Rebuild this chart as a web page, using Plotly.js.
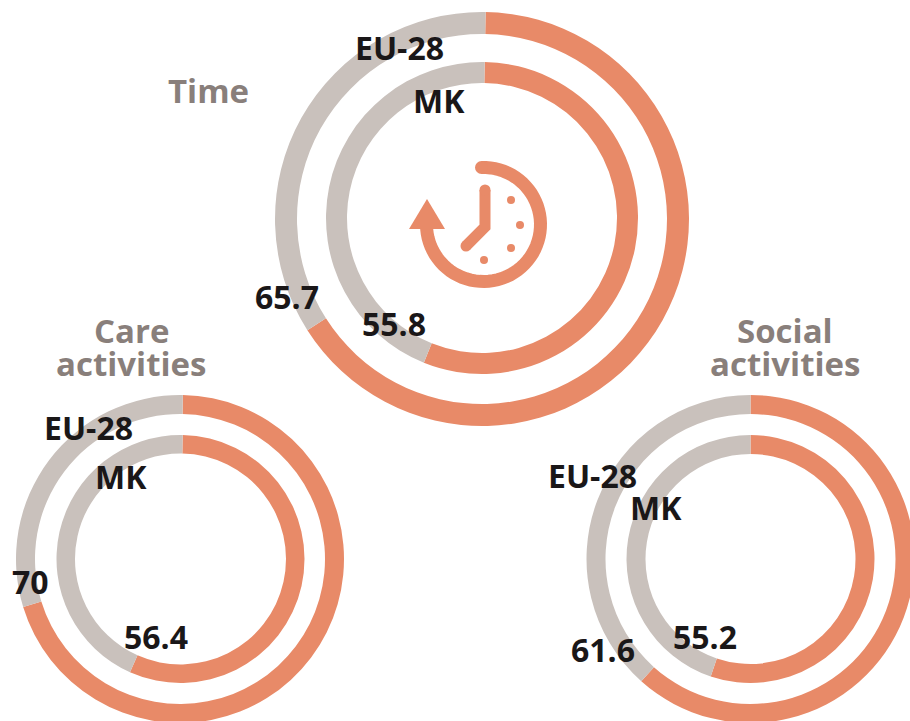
<!DOCTYPE html>
<html>
<head>
<meta charset="utf-8">
<script src="https://cdn.plot.ly/plotly-3.0.1.min.js"></script>
<style>html,body{margin:0;padding:0;background:#fff;overflow:hidden;width:910px;height:721px}#c{width:920px;height:730px}</style>
</head>
<body>
<div id="c"></div>
<script>
var W = 920, H = 730;
var panels = ["Time", "Care activities", "Social activities"];
var eu28Values = [65.7, 70, 61.6];
var mkValues = [55.8, 56.4, 55.2];
var ORANGE = "#E88A68", GREY = "#C9C1BC", TITLE = "#897F7B", INK = "#1A1718";
var FONT = "Open Sans";

function px(x){return x/W;}
function py(y){return 1-y/H;}

function ring(value, cx, cy, r, thick, rot){
  return {
    type: "pie", values: [value, 100-value], sort: false, direction: "clockwise", rotation: rot,
    hole: (r-thick)/r, textinfo: "none", hoverinfo: "skip", showlegend: false,
    marker: {colors: [ORANGE, GREY], line: {width: 0}},
    domain: {x: [px(cx-r), px(cx+r)], y: [py(cy+r), py(cy-r)]}
  };
}

var data = [
  ring(eu28Values[0], 482, 219, 207, 22, 1),
  ring(mkValues[0], 482, 218, 156, 21, 1),
  ring(eu28Values[1], 180, 559, 164, 19, 1),
  ring(mkValues[1], 180.5, 559, 124, 18.5, 1),
  ring(eu28Values[2], 750.5, 559, 164, 19, 0),
  ring(mkValues[2], 750.5, 559, 124, 19, 0)
];

function label(t, x, y, size, color){
  return {text: t, x: px(x), y: py(y), xref: "paper", yref: "paper", xanchor: "center", yanchor: "middle",
    showarrow: false, font: {family: FONT, size: size, color: color, weight: 700}};
}

var annotations = [
  label("EU-28", 399.5, 47, 32, INK),
  label("MK", 438.5, 101, 32, INK),
  label(String(eu28Values[0]), 287, 296, 32, INK),
  label(String(mkValues[0]), 394, 324, 32, INK),
  label("EU-28", 88.5, 427, 32, INK),
  label("MK", 121, 476, 32, INK),
  label(String(eu28Values[1]), 30, 581, 32, INK),
  label(String(mkValues[1]), 156, 636, 32, INK),
  label("EU-28", 592, 475, 32, INK),
  label("MK", 656, 507, 32, INK),
  label(String(eu28Values[2]), 603, 649, 32, INK),
  label(String(mkValues[2]), 705, 636, 32, INK),
  label("Time", 208, 91, 33, TITLE),
  label("Care", 131, 330, 33, TITLE),
  label("activities", 131, 363, 33, TITLE),
  label("Social", 785, 330, 33, TITLE),
  label("activities", 785, 363, 33, TITLE)
];

// Clock icon (decoration)
function P(x,y){return px(x).toFixed(5)+","+py(y).toFixed(5);}
function arcPath(cx,cy,r,a0,a1){
  var s="", n=60;
  for(var i=0;i<=n;i++){
    var a=(a0+(a1-a0)*i/n)*Math.PI/180;
    s+=(i?"L":"M")+P(cx+r*Math.sin(a),cy-r*Math.cos(a));
  }
  return s;
}
function stroke(path,w){
  return {type:"path",xref:"paper",yref:"paper",path:path,line:{color:ORANGE,width:w},fillcolor:"rgba(0,0,0,0)"};
}
function dot(x,y,r){
  return {type:"circle",xref:"paper",yref:"paper",x0:px(x-r),x1:px(x+r),y0:py(y+r),y1:py(y-r),fillcolor:ORANGE,line:{width:0}};
}
var shapes = [
  stroke(arcPath(483.5,224.5,57,-2,270),13),
  dot(481.5,167.5,6.5),
  {type:"path",xref:"paper",yref:"paper",path:"M"+P(427,199)+"L"+P(445,229)+"L"+P(409,229)+"Z",fillcolor:ORANGE,line:{width:0}},
  stroke("M"+P(485,190)+"L"+P(485,227)+"L"+P(466,246),11),
  dot(485,190,5.5), dot(466,246,5.5),
  dot(511,200,4), dot(520,225,4), dot(511,248,4), dot(484,260,4)
];

Plotly.newPlot("c", data, {
  width: W, height: H, margin: {l:0,r:0,t:0,b:0},
  paper_bgcolor: "#fff", plot_bgcolor: "#fff", showlegend: false,
  annotations: annotations, shapes: shapes
}, {displayModeBar:false, staticPlot:true});
</script>
</body>
</html>
